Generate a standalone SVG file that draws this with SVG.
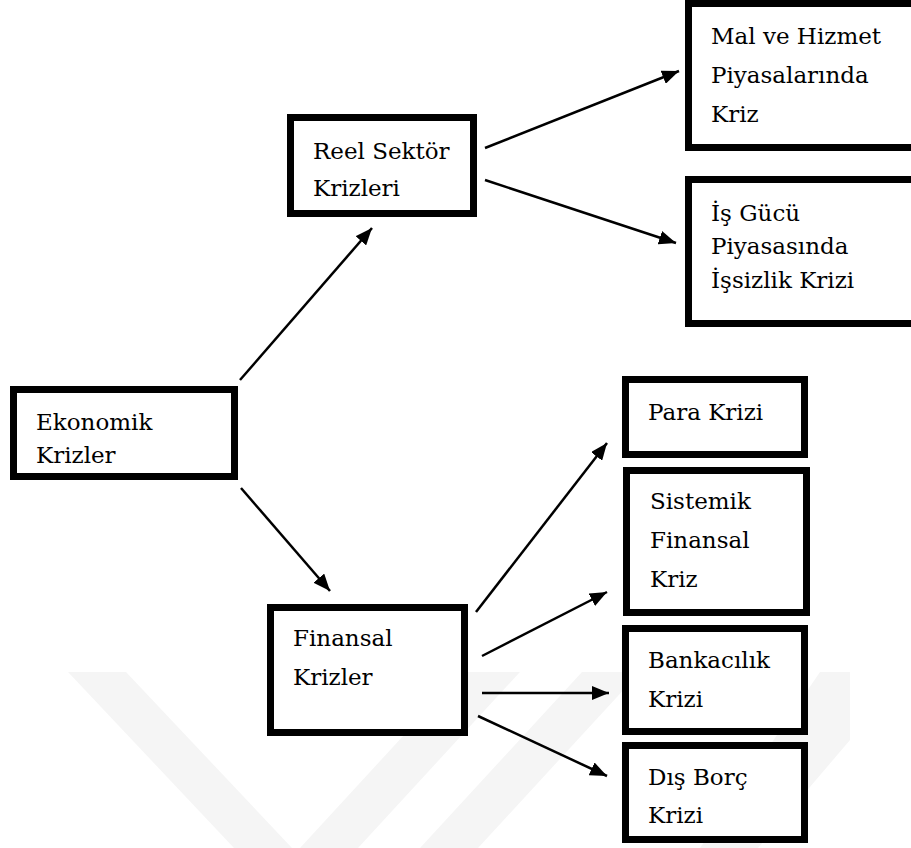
<svg xmlns="http://www.w3.org/2000/svg" width="911" height="848" viewBox="0 0 911 848">
<style>
.box{fill:#fff;stroke:#000;stroke-width:7}
.c{stroke:#000;stroke-width:2.5;fill:none;marker-end:url(#ah)}
.wm{fill:#f5f5f5}
</style>
<defs>
<marker id="ah" markerUnits="userSpaceOnUse" markerWidth="18" markerHeight="14" refX="17" refY="7" orient="auto">
<path d="M0,0 L17,7 L0,14 z" fill="#000"/>
</marker>
</defs>
<rect width="911" height="848" fill="#fff"/>
<g id="watermark">
<polygon class="wm" points="68,672 126,672 292,848 234,848"/>
<polygon class="wm" points="300,848 358,848 520,672 462,672"/>
<polygon class="wm" points="420,848 478,848 640,672 582,672"/>
<polygon class="wm" points="700,848 758,848 850,740 850,672 820,672"/>
</g>
<g id="connectors">
<line class="c" x1="240" y1="380" x2="372" y2="228"/>
<line class="c" x1="241" y1="488" x2="330" y2="591"/>
<line class="c" x1="485" y1="148" x2="679" y2="71"/>
<line class="c" x1="485" y1="180" x2="676" y2="243"/>
<line class="c" x1="476" y1="612" x2="607" y2="443"/>
<line class="c" x1="482" y1="656" x2="607" y2="592"/>
<line class="c" x1="482" y1="693" x2="609" y2="693"/>
<line class="c" x1="478" y1="716" x2="607" y2="776"/>
</g>
<g font-family="'DejaVu Serif', 'Liberation Serif', serif" font-size="23" fill="#000">
<g id="ekonomik">
<rect class="box" x="13.5" y="389.5" width="221" height="87"/>
<text x="36" y="430">Ekonomik</text>
<text x="36" y="463">Krizler</text>
</g>
<g id="reel">
<rect class="box" x="290.5" y="117.5" width="183" height="96"/>
<text x="313" y="159">Reel Sektör</text>
<text x="313" y="196">Krizleri</text>
</g>
<g id="finansal">
<rect class="box" x="270.5" y="607.5" width="194" height="125"/>
<text x="293" y="646">Finansal</text>
<text x="293" y="685">Krizler</text>
</g>
<g id="mal">
<rect class="box" x="688.5" y="3.5" width="226" height="144"/>
<text x="711" y="44">Mal ve Hizmet</text>
<text x="711" y="83">Piyasalarında</text>
<text x="711" y="122">Kriz</text>
</g>
<g id="isgucu">
<rect class="box" x="688.5" y="179.5" width="226" height="144"/>
<text x="711" y="221">İş Gücü</text>
<text x="711" y="254">Piyasasında</text>
<text x="711" y="288">İşsizlik Krizi</text>
</g>
<g id="para">
<rect class="box" x="625.5" y="379.5" width="179" height="75"/>
<text x="648" y="420">Para Krizi</text>
</g>
<g id="sistemik">
<rect class="box" x="626.5" y="470.5" width="180" height="142"/>
<text x="650" y="509">Sistemik</text>
<text x="650" y="548">Finansal</text>
<text x="650" y="587">Kriz</text>
</g>
<g id="bankacilik">
<rect class="box" x="625.5" y="628.5" width="179" height="103"/>
<text x="648" y="668">Bankacılık</text>
<text x="648" y="707">Krizi</text>
</g>
<g id="disborc">
<rect class="box" x="625.5" y="745.5" width="179" height="94"/>
<text x="648" y="785">Dış Borç</text>
<text x="648" y="823">Krizi</text>
</g>
</g>
</svg>
